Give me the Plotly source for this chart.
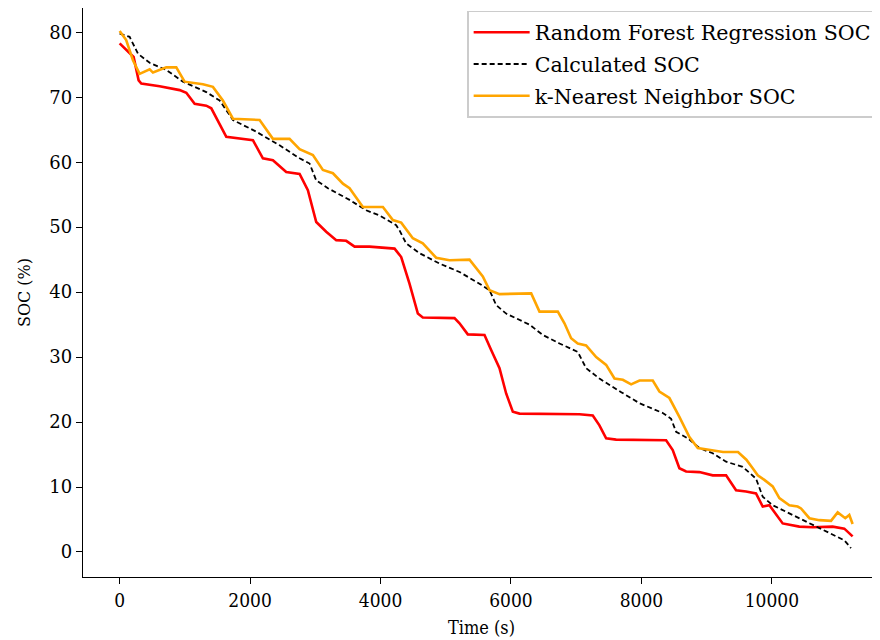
import plotly.graph_objects as go

# ---- data ----
rf_t = [0, 153, 214, 291, 332, 613, 920, 1022, 1150, 1328, 1405, 1635, 2043, 2196, 2350, 2554, 2759,
        2886, 3014, 3167, 3321, 3474, 3602, 3831, 3985, 4215, 4317, 4444, 4572, 4648, 5134, 5211,
        5338, 5594, 5696, 5824, 5926, 6028, 6131, 7050, 7254, 7356, 7459, 7612, 8378, 8480, 8582,
        8685, 8889, 9093, 9298, 9451, 9604, 9757, 9860, 9962, 10166, 10421, 10626, 10932, 11111, 11238]
rf_soc = [78.3, 76.7, 76.2, 72.6, 72.1, 71.7, 71.1, 70.7, 69.0, 68.7, 68.3, 63.9, 63.4, 60.6, 60.3, 58.5, 58.2,
          55.7, 50.8, 49.3, 48.0, 47.9, 47.0, 47.0, 46.9, 46.7, 45.4, 41.3, 36.7, 36.1, 36.0, 35.2,
          33.5, 33.4, 31.1, 28.3, 24.4, 21.6, 21.3, 21.2, 21.0, 19.5, 17.5, 17.3, 17.2, 15.7, 12.9,
          12.4, 12.3, 11.8, 11.8, 9.5, 9.3, 9.0, 7.0, 7.2, 4.4, 3.9, 3.8, 3.9, 3.6, 2.4]

calc_t = [0, 153, 281, 460, 715, 970, 1328, 1533, 1737, 2095, 2452, 2759, 2912, 3014, 3193, 3525, 3780,
          3985, 4240, 4291, 4393, 4598, 4904, 5211, 5517, 5671, 5773, 5926, 6284, 6488, 6744, 7024,
          7152, 7356, 7690, 7970, 8327, 8455, 8532, 8710, 8889, 9093, 9298, 9553, 9757, 9860, 10013,
          10319, 10626, 10932, 11111, 11213]
calc_soc = [79.8, 79.3, 76.7, 75.3, 74.2, 72.4, 70.8, 69.5, 66.5, 64.7, 62.6, 60.6, 59.8, 57.2, 56.0, 54.2, 52.6,
            51.8, 50.3, 49.5, 47.5, 46.0, 44.4, 43.1, 41.3, 40.3, 38.0, 36.7, 35.0, 33.4, 32.1, 30.8,
            28.3, 26.7, 24.6, 22.9, 21.4, 20.5, 18.5, 17.5, 16.0, 15.2, 13.9, 13.1, 11.3, 8.5, 7.2,
            5.7, 4.2, 2.6, 1.8, 0.6]

knn_t = [0, 100, 204, 306, 460, 511, 715, 868, 996, 1277, 1430, 1583, 1737, 2146, 2350, 2605, 2759,
         2963, 3116, 3270, 3423, 3525, 3729, 4036, 4189, 4317, 4495, 4648, 4853, 5057, 5364, 5568,
         5671, 5824, 6310, 6437, 6718, 6820, 6922, 7024, 7152, 7306, 7459, 7587, 7715, 7842, 7970,
         8174, 8276, 8429, 8582, 8736, 8864, 9047, 9251, 9481, 9609, 9706, 9783, 9885, 10013, 10115,
         10268, 10395, 10447, 10575, 10728, 10907, 11009, 11126, 11187, 11238]
knn_soc = [80.2, 78.8, 75.7, 73.6, 74.3, 73.8, 74.6, 74.6, 72.4, 72.0, 71.6, 69.5, 66.7, 66.5, 63.6, 63.6, 62.0,
           61.1, 58.8, 58.3, 56.7, 56.0, 53.1, 53.1, 51.1, 50.7, 48.3, 47.5, 45.3, 44.9, 45.0, 42.4,
           40.3, 39.7, 39.8, 37.0, 37.0, 35.2, 32.9, 32.1, 31.8, 30.0, 28.8, 26.7, 26.5, 25.8, 26.4,
           26.4, 24.7, 23.7, 20.8, 17.7, 16.0, 15.7, 15.4, 15.4, 14.2, 12.9, 11.8, 11.1, 10.1, 8.3,
           7.2, 7.0, 6.7, 5.2, 4.9, 4.8, 6.1, 5.2, 5.7, 4.3]

x_ticks = [0, 2000, 4000, 6000, 8000, 10000]
y_ticks = [0, 10, 20, 30, 40, 50, 60, 70, 80]

SERIF = "DejaVu Serif"
COND = "DejaVu Serif Condensed, DejaVu Serif"

fig = go.Figure()
fig.add_trace(go.Scatter(x=rf_t, y=rf_soc, mode="lines", name="Random Forest Regression SOC",
                         line=dict(color="#ff0000", width=2.6), legendgroup="a"))
fig.add_trace(go.Scatter(x=calc_t, y=calc_soc, mode="lines", name="Calculated SOC",
                         line=dict(color="black", width=1.8, dash="5px,3px"), legendgroup="b"))
fig.add_trace(go.Scatter(x=knn_t, y=knn_soc, mode="lines", name="k-Nearest Neighbor SOC",
                         line=dict(color="#ffa500", width=2.6), legendgroup="c"))

fig.update_layout(
    width=872, height=632,
    margin=dict(l=75, r=0, t=0, b=62.7, autoexpand=False),
    paper_bgcolor="white", plot_bgcolor="white",
    font=dict(family=SERIF, color="black"),
    showlegend=True,
    legend=dict(x=0.482, y=0.995, xanchor="left", yanchor="top",
                bgcolor="white", bordercolor="#cccccc", borderwidth=1.5,
                font=dict(family=SERIF, size=20.6), tracegroupgap=2,
                itemwidth=56),
)
fig.update_xaxes(range=[-562, 11658], tickvals=x_ticks, ticktext=[str(v) for v in x_ticks],
                 automargin=False,
                 showgrid=False, zeroline=False, showline=True, linecolor="black", linewidth=1.3,
                 mirror=True, ticks="outside", ticklen=6, tickwidth=1.3, tickcolor="black",
                 tickfont=dict(family=COND, size=19),
                 title=dict(text="Time (s)", font=dict(family=COND, size=18), standoff=11))
fig.update_yaxes(range=[-3.85, 83.74], tickvals=y_ticks, ticktext=[str(v) for v in y_ticks],
                 automargin=False,
                 showgrid=False, zeroline=False, showline=True, linecolor="black", linewidth=1.3,
                 mirror=False, ticks="outside", ticklen=6, tickwidth=1.3, tickcolor="black",
                 tickfont=dict(family=SERIF, size=18),
                 title=dict(text="SOC (%)", font=dict(family=SERIF, size=16), standoff=14))

fig.write_html("out.html")
